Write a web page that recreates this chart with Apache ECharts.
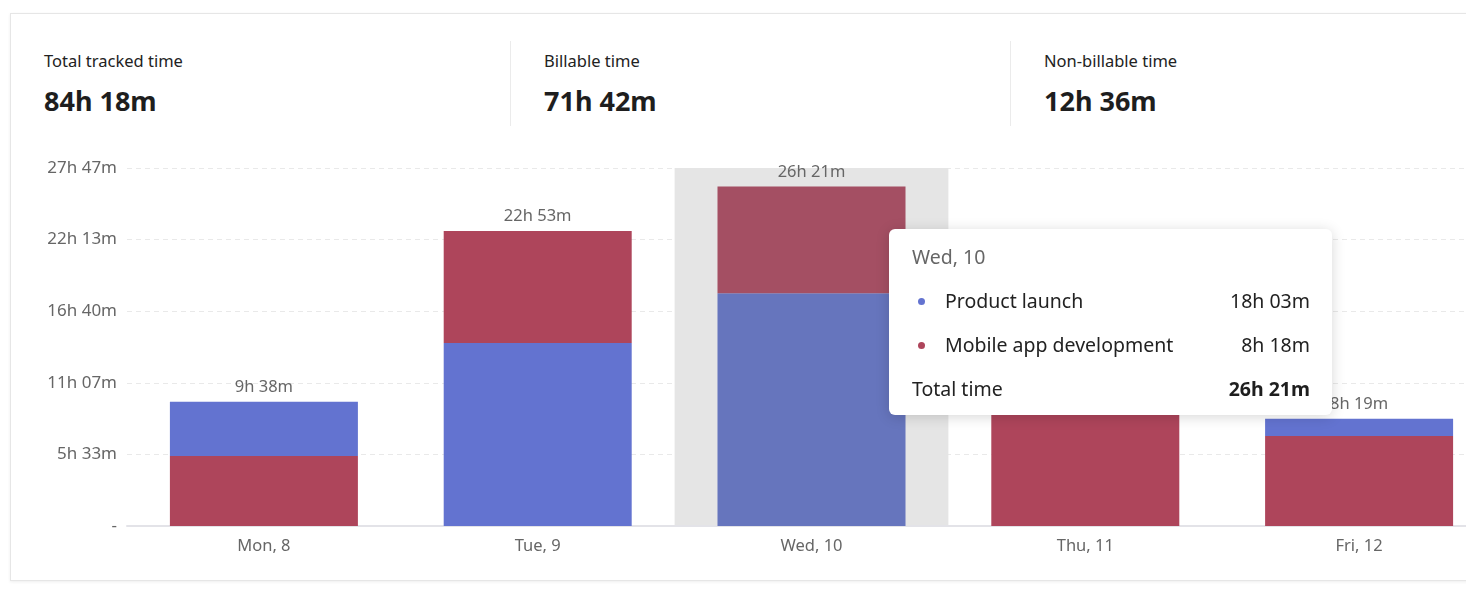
<!DOCTYPE html>
<html>
<head>
<meta charset="utf-8">
<script src="https://cdn.jsdelivr.net/npm/echarts@6/dist/echarts.min.js"></script>
<style>
  html, body { margin: 0; padding: 0; width: 1466px; height: 600px; overflow: hidden; background: #fff;
    font-family: "Segoe UI", "Noto Sans", "Open Sans", sans-serif; }
  .card { position: absolute; left: 10px; top: 13px; width: 1500px; height: 568px;
    border: 1px solid #e6e6e6; box-shadow: 0 1px 3px rgba(0,0,0,0.07); box-sizing: border-box; }
  .stat { position: absolute; top: 27px; width: 500px; height: 85px; box-sizing: border-box; padding-left: 33px; }
  .stat + .stat { border-left: 1px solid #ebebeb; }
  .stat .lbl { font-size: 16.5px; color: #222; position: absolute; top: 8px; white-space: nowrap; }
  .stat .val { font-size: 27px; font-weight: 700; color: #1e1e1e; position: absolute; top: 41px; white-space: nowrap; }
  #chart { position: absolute; left: 0; top: 0; width: 1510px; height: 600px; }
  .tt { font-family: "Segoe UI", "Noto Sans", "Open Sans", sans-serif; width: 398px; padding: 6px 22px 4px 23px;
    font-size: 19.5px; line-height: 44px; color: #222; }
  .tt .title { color: #666; }
  .tt .row { display: flex; align-items: center; }
  .tt .dot { display: inline-block; width: 7px; height: 7px; border-radius: 50%; margin-left: 6px; margin-right: 20px; }
  .tt .name { flex: 1; }
  .tt .bold { font-weight: 700; color: #1e1e1e; }
</style>
</head>
<body>
<div class="card">
  <div class="stat" style="left:0"><div class="lbl">Total tracked time</div><div class="val">84h 18m</div></div>
  <div class="stat" style="left:499px"><div class="lbl">Billable time</div><div class="val">71h 42m</div></div>
  <div class="stat" style="left:999px"><div class="lbl">Non-billable time</div><div class="val">12h 36m</div></div>
</div>
<div id="chart"></div>
<script>
// Data (minutes)
const days = ['Mon, 8', 'Tue, 9', 'Wed, 10', 'Thu, 11', 'Fri, 12'];
const productLaunch = [252, 852, 1083, 0, 80];
const mobileApp = [326, 521, 498, 1027, 419];
const projectNames = ['Product launch', 'Mobile app development'];
const axisMax = 5000 / 3;
const axisInterval = 1000 / 3;
const hoveredIndex = 2;

const COLORS = ['#6373d0', '#ae455b'];
const HOVER_COLORS = ['#6675bd', '#a44f63'];

function fmt(mins) {
  const m = Math.round(mins);
  const h = Math.floor(m / 60);
  const mm = m % 60;
  return h + 'h ' + (mm < 10 ? '0' : '') + mm + 'm';
}

const totals = days.map((d, i) => productLaunch[i] + mobileApp[i]);
const plFirst = days.map((d, i) => productLaunch[i] >= mobileApp[i]);
const plBottom = days.map((d, i) => plFirst[i] ? productLaunch[i] : 0);
const maBottom = days.map((d, i) => plFirst[i] ? 0 : mobileApp[i]);
const plTop = days.map((d, i) => plFirst[i] ? 0 : productLaunch[i]);
const maTop = days.map((d, i) => plFirst[i] ? mobileApp[i] : 0);

const chart = echarts.init(document.getElementById('chart'), null, { renderer: 'canvas' });

function barSeries(name, data, ci) {
  return {
    name: name, type: 'bar', stack: 'total', barWidth: 188, z: 3,
    data: data.map((v, i) => i === hoveredIndex ? { value: v, itemStyle: { color: HOVER_COLORS[ci] } } : v),
    itemStyle: { color: COLORS[ci] }, silent: true,
    emphasis: { disabled: true }
  };
}

const option = {
  animation: false,
  textStyle: { fontFamily: '"Segoe UI", "Noto Sans", "Open Sans", sans-serif' },
  grid: { left: 127, top: 168, width: 1369, height: 358, containLabel: false },
  tooltip: {
    trigger: 'axis',
    alwaysShowContent: true,
    transitionDuration: 0,
    padding: 0,
    borderWidth: 0,
    backgroundColor: '#fff',
    extraCssText: 'border-radius:6px;box-shadow:0 2px 14px rgba(0,0,0,0.16);',
    axisPointer: { type: 'shadow', z: 0, shadowStyle: { color: '#e5e5e5', opacity: 1 } },
    position: function () { return [889, 229]; },
    formatter: function (params) {
      const i = params[0].dataIndex;
      const rows = [
        { n: projectNames[0], v: productLaunch[i], c: COLORS[0] },
        { n: projectNames[1], v: mobileApp[i], c: COLORS[1] }
      ].filter(r => r.v > 0).sort((a, b) => b.v - a.v);
      let html = '<div class="tt">';
      html += '<div class="title">' + days[i] + '</div>';
      rows.forEach(r => {
        html += '<div class="row"><span class="dot" style="background:' + r.c + ';"></span>' +
          '<span class="name">' + r.n + '</span><span>' + fmt(r.v) + '</span></div>';
      });
      html += '<div class="row"><span class="name">Total time</span><span class="bold">' + fmt(totals[i]) + '</span></div>';
      html += '</div>';
      return html;
    }
  },
  xAxis: {
    type: 'category',
    data: days,
    axisLine: { lineStyle: { color: '#e3e3e8', width: 2 } },
    axisTick: { alignWithLabel: true, length: 5, lineStyle: { color: '#e3e3e8' } },
    axisLabel: { color: '#666', fontSize: 16.5, margin: 12 }
  },
  yAxis: {
    type: 'value',
    min: 0,
    max: axisMax,
    interval: axisInterval,
    axisLine: { show: false },
    axisTick: { show: false },
    splitLine: { lineStyle: { color: '#e9e9e9', type: [5, 4] } },
    axisLabel: {
      color: '#666', fontSize: 17, margin: 10,
      formatter: function (v) { return v === 0 ? '-' : fmt(v); }
    }
  },
  series: [
    barSeries(projectNames[0], plBottom, 0),
    barSeries(projectNames[1], maBottom, 1),
    barSeries(projectNames[0], plTop, 0),
    barSeries(projectNames[1], maTop, 1),
    {
      name: 'total', type: 'bar', stack: 'total', barWidth: 188, silent: true, z: 3,
      data: days.map(() => 0),
      itemStyle: { color: 'transparent' },
      label: {
        show: true, position: 'top', distance: 6, color: '#666', fontSize: 16.5,
        formatter: function (p) { return fmt(totals[p.dataIndex]); }
      }
    }
  ]
};

chart.setOption(option);
chart.dispatchAction({ type: 'showTip', seriesIndex: 0, dataIndex: hoveredIndex });
</script>
</body>
</html>
